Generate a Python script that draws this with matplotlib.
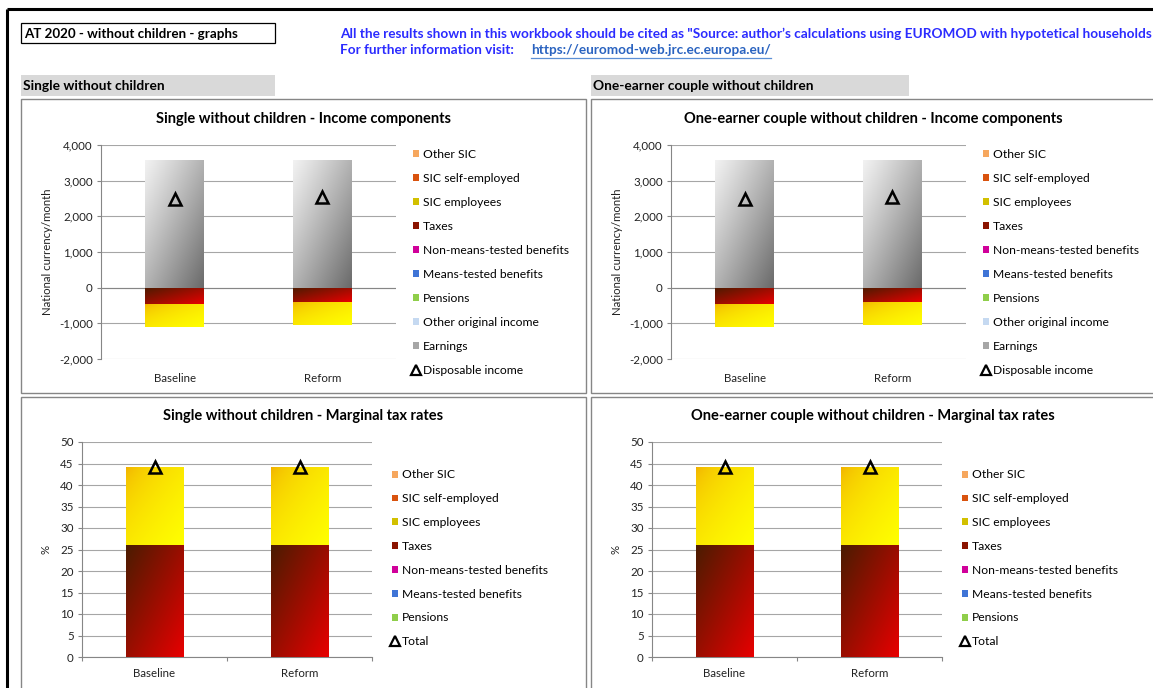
import numpy as np
import matplotlib
matplotlib.use("Agg")
import matplotlib.pyplot as plt
from matplotlib.patches import Rectangle
from matplotlib.lines import Line2D
from matplotlib.ticker import FuncFormatter, MultipleLocator
from matplotlib.colors import to_rgb

plt.rcParams['font.family'] = ['Lato', 'DejaVu Sans']

# ---------------- data ----------------
categories = ['Baseline', 'Reform']

# income components (national currency / month)
single_earnings = [3590, 3590]
single_taxes = [-457, -411]
single_sic_employees = [-644, -634]
single_disposable = [2489, 2545]

couple_earnings = [3590, 3590]
couple_taxes = [-457, -411]
couple_sic_employees = [-644, -634]
couple_disposable = [2489, 2545]

# marginal tax rates (%)
single_mtr_taxes = [26.1, 26.1]
single_mtr_sic_employees = [18.0, 18.0]
single_mtr_total = [44.1, 44.1]

couple_mtr_taxes = [26.1, 26.1]
couple_mtr_sic_employees = [18.0, 18.0]
couple_mtr_total = [44.1, 44.1]

income_labels = ['Other SIC', 'SIC self-employed', 'SIC employees', 'Taxes',
                 'Non-means-tested benefits', 'Means-tested benefits', 'Pensions',
                 'Other original income', 'Earnings']
mtr_labels = ['Other SIC', 'SIC self-employed', 'SIC employees', 'Taxes',
              'Non-means-tested benefits', 'Means-tested benefits', 'Pensions']

legend_colors = {
    'Other SIC': '#f6a75e',
    'SIC self-employed': '#d9530e',
    'SIC employees': '#d2c000',
    'Taxes': '#8b1300',
    'Non-means-tested benefits': '#d0009a',
    'Means-tested benefits': '#3f74d6',
    'Pensions': '#8fce4a',
    'Other original income': '#c5d9f1',
    'Earnings': '#a6a6a6',
}

# gradient (top-left colour, bottom-right colour, gamma)
gradients = {
    'Earnings': ('#f2f2f2', '#6a6a6a', 1.1),
    'Taxes': ('#4a1c00', '#e80000', 1.0),
    'SIC employees': ('#f0a800', '#ffff00', 0.45),
}

W, H = 1153, 688
LEG_FS = 8.7


def fig_rect(x0, y0, x1, y1):
    """ pixel box (top-left origin) -> figure fraction rect """
    return [x0 / W, 1 - y1 / H, (x1 - x0) / W, (y1 - y0) / H]


def gradient_fill(ax, bars, name):
    c0, c1, gamma = gradients[name]
    c0, c1 = np.array(to_rgb(c0)), np.array(to_rgb(c1))
    n = 80
    u = np.linspace(0, 1, n)
    t = (u[None, :] + u[:, None]) / 2
    t = t ** gamma
    img = c0[None, None, :] * (1 - t[..., None]) + c1[None, None, :] * t[..., None]
    for p in bars:
        x0, y0 = p.get_xy()
        w, h = p.get_width(), p.get_height()
        if h == 0:
            continue
        lo, hi = min(y0, y0 + h), max(y0, y0 + h)
        im = ax.imshow(img, extent=(x0, x0 + w, lo, hi), aspect='auto',
                       interpolation='bilinear', zorder=3)
        im.set_clip_path(p)


def stacked(ax, x, series, width=0.4):
    pos = np.zeros(len(x))
    neg = np.zeros(len(x))
    for name, vals in series:
        vals = np.array(vals, dtype=float)
        bottom = np.where(vals >= 0, pos, neg)
        bars = ax.bar(x, vals, width, bottom=bottom, color=legend_colors[name],
                      linewidth=0, zorder=2)
        pos = pos + np.where(vals >= 0, vals, 0)
        neg = neg + np.where(vals < 0, vals, 0)
        if name in gradients:
            gradient_fill(ax, bars, name)


def style_axes(ax, ylim, step, fmt, ylabel, labelpad):
    ax.set_xlim(-0.5, 1.5)
    ax.set_ylim(*ylim)
    ax.yaxis.set_major_locator(MultipleLocator(step))
    ax.yaxis.set_major_formatter(FuncFormatter(fmt))
    ax.grid(axis='y', color='#a6a6a6', linewidth=0.8, zorder=0)
    ax.set_axisbelow(True)
    for s in ['top', 'right']:
        ax.spines[s].set_visible(False)
    ax.spines['left'].set_color('#868686')
    ax.spines['bottom'].set_color('#868686')
    ax.tick_params(axis='y', colors='#868686', labelcolor='#222222', labelsize=8.3,
                   length=3, width=0.8, pad=3)
    ax.set_xticks(range(len(categories)))
    ax.set_xticklabels(categories)
    ax.set_xticks([-0.5, 0.5, 1.5], minor=True)
    ax.tick_params(axis='x', which='major', length=0, labelsize=8.3, labelcolor='#222222', pad=8)
    ax.tick_params(axis='x', which='minor', length=3, width=0.8, colors='#868686')
    ax.set_ylabel(ylabel, fontsize=8.2, color='#222222', labelpad=labelpad)
    ax.patch.set_visible(False)


def legend_handles(labels, marker_label):
    hs = [Rectangle((0, 0), 1, 1, fc=legend_colors[l], ec='none') for l in labels]
    hs.append(Line2D([], [], marker='^', ls='none', mfc='none', mec='black', mew=1.6, ms=7))
    return hs, labels + [marker_label]


def add_legend(ax, labels, marker_label, leg_xy, spacing):
    hs, ls = legend_handles(labels, marker_label)
    ax.legend(hs, ls, loc='upper left', bbox_to_anchor=(leg_xy[0] / W, 1 - leg_xy[1] / H),
              bbox_transform=fig.transFigure, frameon=False, fontsize=LEG_FS,
              handlelength=0.5, handleheight=0.5, handletextpad=0.3,
              labelspacing=spacing, borderpad=0, borderaxespad=0)


def income_chart(rect, earnings, taxes, sic, disp, leg_xy):
    ax = fig.add_axes(fig_rect(*rect), zorder=2)
    x = np.arange(len(categories))
    stacked(ax, x, [('Earnings', earnings), ('Taxes', taxes), ('SIC employees', sic)])
    ax.plot(x, disp, marker='^', ls='none', mfc='none', mec='black', mew=1.8, ms=9, zorder=5)
    style_axes(ax, (-2000, 4000), 1000, lambda v, p: f'{v:,.0f}',
               'National currency/month', 4)
    ax.axhline(0, color='#868686', lw=0.8, zorder=1)
    ax.spines['bottom'].set_visible(False)
    ax.tick_params(axis='x', which='minor', length=0)
    ax.tick_params(axis='x', which='major', pad=10)
    add_legend(ax, income_labels, 'Disposable income', leg_xy, 1.08)
    return ax


def mtr_chart(rect, taxes, sic, total, leg_xy):
    ax = fig.add_axes(fig_rect(*rect), zorder=2)
    x = np.arange(len(categories))
    stacked(ax, x, [('Taxes', taxes), ('SIC employees', sic)])
    ax.plot(x, total, marker='^', ls='none', mfc='none', mec='black', mew=1.8, ms=9, zorder=5)
    style_axes(ax, (0, 50), 5, lambda v, p: f'{v:.0f}', '%', 6)
    add_legend(ax, mtr_labels, 'Total', leg_xy, 1.06)
    return ax


fig = plt.figure(figsize=(W / 100, H / 100), dpi=100)
fig.patch.set_facecolor('white')

# sheet background drawn in pixel coordinates
bg = fig.add_axes([0, 0, 1, 1], zorder=0)
bg.set_xlim(0, W)
bg.set_ylim(H, 0)
bg.axis('off')

bg.plot([7, 7], [9, H], color='black', lw=2.2, solid_capstyle='butt')
bg.plot([7, W], [9, 9], color='black', lw=2.2, solid_capstyle='butt')

bg.add_patch(Rectangle((21, 23), 254, 20, fc='white', ec='black', lw=0.9))
bg.text(24, 33.5, 'AT 2020 - without children - graphs', fontsize=9.6, fontweight='bold',
        va='center', ha='left')

blue = '#2b2bff'
bg.text(340, 33.5, 'All the results shown in this workbook should be cited as "Source: '
        'author\u2019s calculations using EUROMOD with hypotetical households',
        fontsize=9.8, fontweight='bold', color=blue, va='center', ha='left')
bg.text(340, 50.5, 'For further information visit:', fontsize=9.8, fontweight='bold',
        color=blue, va='center', ha='left')
link = bg.text(531, 50.5, 'https://euromod-web.jrc.ec.europa.eu/', fontsize=9.8,
               fontweight='bold', color='#2a63c0', va='center', ha='left')
fig.canvas.draw()
lb = link.get_window_extent().transformed(bg.transData.inverted())
bg.plot([lb.x0, lb.x1], [58, 58], color='#5b8fd6', lw=0.9)

bg.add_patch(Rectangle((21, 75), 254, 21, fc='#d9d9d9', ec='none'))
bg.text(23, 86, 'Single without children', fontsize=9.9, fontweight='bold', va='center')
bg.add_patch(Rectangle((591, 75), 318, 21, fc='#d9d9d9', ec='none'))
bg.text(593, 86, 'One-earner couple without children', fontsize=9.9, fontweight='bold',
        va='center')

for (bx, by, bw, bh) in [(21, 99, 565, 294), (591, 99, 575, 294),
                         (21, 397, 565, 300), (591, 397, 575, 300)]:
    bg.add_patch(Rectangle((bx, by), bw, bh, fc='white', ec='#868686', lw=1.0))

bg.text(303, 119, 'Single without children - Income components', fontsize=10.5,
        fontweight='bold', ha='center', va='center')
bg.text(873, 119, 'One-earner couple without children - Income components', fontsize=10.5,
        fontweight='bold', ha='center', va='center')
bg.text(303, 416, 'Single without children - Marginal tax rates', fontsize=10.5,
        fontweight='bold', ha='center', va='center')
bg.text(873, 416, 'One-earner couple without children - Marginal tax rates', fontsize=10.5,
        fontweight='bold', ha='center', va='center')

income_chart((101, 145, 396, 359), single_earnings, single_taxes, single_sic_employees,
             single_disposable, (413, 148.5))
income_chart((671, 145, 966, 359), couple_earnings, couple_taxes, couple_sic_employees,
             couple_disposable, (983, 148.5))
mtr_chart((82, 442, 372, 657), single_mtr_taxes, single_mtr_sic_employees,
          single_mtr_total, (392, 469.5))
mtr_chart((652, 442, 942, 657), couple_mtr_taxes, couple_mtr_sic_employees,
          couple_mtr_total, (962, 469.5))

fig.savefig('out.png', dpi=100)
